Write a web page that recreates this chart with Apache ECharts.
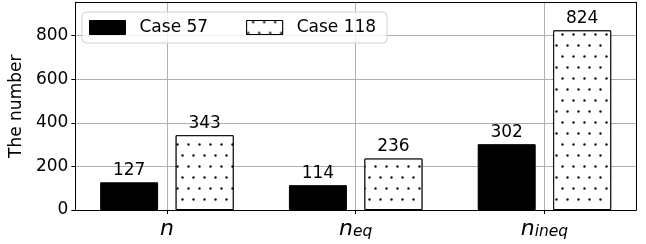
<!DOCTYPE html>
<html><head><meta charset="utf-8">
<script src="https://cdn.jsdelivr.net/npm/echarts@6/dist/echarts.min.js"></script>
<style>html,body{margin:0;padding:0;background:#fff}#c{width:646px;height:244px}</style>
</head><body><div id="c"></div>
<script>
var categories = ['n', 'n_eq', 'n_ineq'];
var categorySubs = ['', 'eq', 'ineq'];
var seriesNames = ['Case 57', 'Case 118'];
var case57 = [127, 114, 302];
var case118 = [343, 236, 824];
var yTicks = [0, 200, 400, 600, 800];
var yLabel = 'The number';

var FONT = 'DejaVu Sans';
var chart = echarts.init(document.getElementById('c'), null, {renderer: 'canvas'});
var catIdx = categories.map(function (c, i) { return i; });
var OFF = 0.2;
function pts(arr, off) { return arr.map(function (v, i) { return [i + off, v]; }); }

var dots = {
  symbol: 'circle', symbolSize: 0.8, color: '#111', backgroundColor: '#fff',
  dashArrayX: [[3, 8], [0, 5, 3, 3]],
  dashArrayY: [3, 8], rotation: 0
};

var labelStyle = {show: true, position: 'top', distance: 3, color: '#000', fontSize: 17, fontFamily: FONT};

chart.setOption({
  animation: false,
  backgroundColor: '#fff',
  grid: {left: 73, right: 10, top: 2.5, bottom: 34},
  legend: {
    left: 82, top: 12, orient: 'horizontal',
    data: seriesNames, icon: 'rect', itemWidth: 36, itemHeight: 14, itemGap: 38,
    padding: [7, 11, 7, 7],
    itemStyle: {borderWidth: 1},
    backgroundColor: 'rgba(255,255,255,0.8)', borderColor: '#d0d0d0', borderWidth: 1, borderRadius: 4,
    textStyle: {fontSize: 17, fontFamily: FONT, color: '#000', padding: [0, 0, 0, 9]}
  },
  xAxis: [{
    type: 'value', min: -0.485, max: 2.485,
    axisLine: {show: true, onZero: false, lineStyle: {color: '#000', width: 1}},
    axisTick: {show: true, customValues: catIdx, length: 4, lineStyle: {color: '#000'}},
    splitLine: {show: true, lineStyle: {color: '#b0b0b0', width: 1}},
    axisLabel: {
      customValues: catIdx, margin: 8,
      formatter: function (v) {
        var i = Math.round(v);
        return categorySubs[i] ? '{n|n}{s|' + categorySubs[i] + '}' : '{n|n}';
      },
      rich: {
        n: {fontSize: 22, fontStyle: 'italic', fontFamily: FONT, color: '#000', lineHeight: 22},
        s: {fontSize: 15.5, fontStyle: 'italic', fontFamily: FONT, color: '#000', lineHeight: 22, padding: [5, 0, 0, 0]}
      }
    }
  }, {
    type: 'value', position: 'top', min: -0.485, max: 2.485,
    axisLine: {show: true, onZero: false, lineStyle: {color: '#000', width: 1}},
    axisTick: {show: false}, axisLabel: {show: false}, splitLine: {show: false}
  }],
  yAxis: [{
    type: 'value', min: 0, max: 952,
    name: yLabel, nameLocation: 'middle', nameGap: 34,
    nameTextStyle: {fontSize: 17, fontFamily: FONT, color: '#000'},
    axisLine: {show: true, onZero: false, lineStyle: {color: '#000', width: 1}},
    axisTick: {show: true, customValues: yTicks, length: 4, lineStyle: {color: '#000'}},
    axisLabel: {customValues: yTicks, fontSize: 17, fontFamily: FONT, color: '#000', margin: 7},
    splitLine: {show: true, lineStyle: {color: '#b0b0b0', width: 1}}
  }, {
    type: 'value', position: 'right', min: 0, max: 952,
    axisLine: {show: true, onZero: false, lineStyle: {color: '#000', width: 1}},
    axisTick: {show: false}, axisLabel: {show: false}, splitLine: {show: false}
  }],
  series: [{
    name: seriesNames[0], type: 'bar', xAxisIndex: 0, yAxisIndex: 0,
    data: pts(case57, -OFF), barWidth: 58, barGap: '-100%',
    itemStyle: {color: '#000', borderColor: '#000', borderWidth: 1},
    label: labelStyle
  }, {
    name: seriesNames[1], type: 'bar', xAxisIndex: 0, yAxisIndex: 0,
    data: pts(case118, OFF), barWidth: 58, barGap: '-100%',
    itemStyle: {color: '#fff', borderColor: '#000', borderWidth: 1, decal: dots},
    label: labelStyle
  }]
});
</script></body></html>
